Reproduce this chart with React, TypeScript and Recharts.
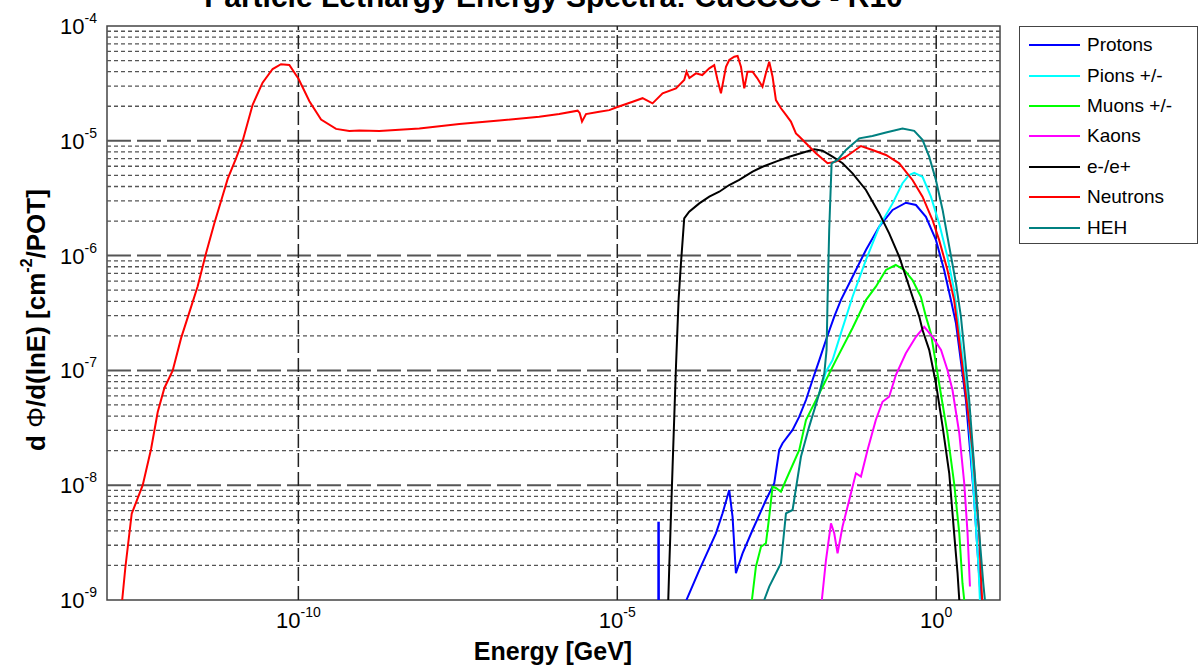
import React from 'react'
import {
  LineChart,
  Line,
  XAxis,
  YAxis,
  ReferenceLine,
  ReferenceArea,
  Legend
} from 'recharts'

// energy [GeV] and lethargy flux [cm^-2/POT] per particle type
const protonE = [4.38e-5, 4.40e-5, 4.48e-5, 4.52e-5, 1.12e-4, 1.93e-4, 3.52e-4, 4.47e-4, 5.69e-4, 6.41e-4, 7.24e-4, 9.2e-4, 1.32e-3, 2.14e-3, 2.89e-3, 3.46e-3, 3.9e-3, 5.6e-3, 7.13e-3, 9.08e-3, 1.15e-2, 1.47e-2, 1.87e-2, 2.52e-2, 3.2e-2, 4.88e-2, 7.91e-2, 0.128, 0.207, 0.335, 0.481, 0.69, 0.989, 1.33, 1.7, 2.04, 2.92, 3.94, 4.72, 5.02]
const protonFlux = [1e-11, 4.7e-9, 4.7e-9, 1e-11, 9e-10, 1.82e-9, 3.81e-9, 5.69e-9, 9.08e-9, 5.32e-9, 1.71e-9, 2.55e-9, 4.07e-9, 7.43e-9, 1.04e-8, 2.03e-8, 2.32e-8, 3.03e-8, 3.95e-8, 5.52e-8, 8.24e-8, 1.23e-7, 1.84e-7, 2.94e-7, 4.1e-7, 6.55e-7, 1.12e-6, 1.79e-6, 2.5e-6, 2.89e-6, 2.76e-6, 2.18e-6, 1.37e-6, 7.5e-7, 4.1e-7, 2.57e-7, 5.52e-8, 7.43e-9, 1.6e-9, 1e-9]

const pionE = [1.47e-2, 1.87e-2, 2.37e-2, 3.2e-2, 4.88e-2, 7.91e-2, 0.128, 0.207, 0.296, 0.377, 0.452, 0.61, 0.826, 1.11, 1.5, 1.91, 2.3, 3.1, 3.94, 4.6, 4.84]
const pionFlux = [6.31e-8, 9.75e-8, 1.23e-7, 2.1e-7, 4.38e-7, 9.16e-7, 1.79e-6, 2.85e-6, 4.27e-6, 5.04e-6, 5.27e-6, 4.86e-6, 3.26e-6, 1.91e-6, 9.78e-7, 5.01e-7, 2.25e-7, 5.52e-8, 7.43e-9, 1.95e-9, 1e-9]

const muonE = [1.29e-3, 1.49e-3, 1.79e-3, 2.14e-3, 2.41e-3, 2.72e-3, 3.07e-3, 3.68e-3, 4.41e-3, 7.13e-3, 9.08e-3, 1.47e-2, 2.68e-2, 4.88e-2, 7.91e-2, 0.113, 0.163, 0.232, 0.315, 0.425, 0.575, 0.69, 0.826, 1.11, 1.5, 1.91, 2.3, 2.58, 2.75]
const muonFlux = [1e-9, 1.95e-9, 2.91e-9, 3.12e-9, 5.32e-9, 9.7e-9, 9.46e-9, 8.77e-9, 1.11e-8, 2.03e-8, 3.7e-8, 6.31e-8, 1.23e-7, 2.34e-7, 4.1e-7, 5.36e-7, 7.5e-7, 8.28e-7, 7.5e-7, 6.12e-7, 4.38e-7, 2.94e-7, 2.1e-7, 7.73e-8, 2.83e-8, 1.04e-8, 3.81e-9, 1.4e-9, 1e-9]

const kaonE = [1.61e-2, 1.87e-2, 2.24e-2, 2.52e-2, 2.84e-2, 3.4e-2, 4.33e-2, 5.51e-2, 6.61e-2, 8.38e-2, 0.113, 0.144, 0.183, 0.233, 0.334, 0.481, 0.649, 0.875, 1.19, 1.5, 1.8, 2.3, 2.75, 3.1, 3.38]
const kaonFlux = [1e-9, 2.23e-9, 4.66e-9, 3.81e-9, 2.55e-9, 4.36e-9, 7.43e-9, 1.27e-8, 1.19e-8, 2.03e-8, 3.7e-8, 5.33e-8, 5.9e-8, 9.12e-8, 1.41e-7, 1.96e-7, 2.4e-7, 1.96e-7, 1.51e-7, 1.01e-7, 6.75e-8, 2.83e-8, 1.04e-8, 3.81e-9, 1.31e-9]

const electronE = [6.3e-5, 6.53e-5, 7.36e-5, 8.32e-5, 9.14e-5, 9.96e-5, 1.12e-4, 1.34e-4, 1.93e-4, 2.77e-4, 3.97e-4, 5.69e-4, 8.17e-4, 1.32e-3, 1.89e-3, 3.07e-3, 4.96e-3, 8.02e-3, 1.22e-2, 1.65e-2, 2.37e-2, 3.4e-2, 4.88e-2, 7.91e-2, 0.128, 0.183, 0.263, 0.335, 0.425, 0.542, 0.61, 0.776, 0.989, 1.26, 1.6, 1.91, 2.16, 2.3]
const electronFlux = [1e-9, 1.95e-9, 1.45e-8, 1.08e-7, 4.1e-7, 8.57e-7, 2.11e-6, 2.41e-6, 2.85e-6, 3.26e-6, 3.6e-6, 4.12e-6, 4.56e-6, 5.38e-6, 5.94e-6, 6.58e-6, 7.27e-6, 7.87e-6, 8.43e-6, 8.2e-6, 7.27e-6, 6.37e-6, 5.21e-6, 3.73e-6, 2.33e-6, 1.56e-6, 9.78e-7, 6.55e-7, 4.38e-7, 2.94e-7, 2.25e-7, 1.51e-7, 7.73e-8, 3.24e-8, 1.27e-8, 3.81e-9, 1.71e-9, 1e-9]

const neutronE = [1.73e-13, 1.94e-13, 2.44e-13, 3.63e-13, 4.91e-13, 6.24e-13, 7.94e-13, 1.07e-12, 1.45e-12, 1.96e-12, 2.64e-12, 3.57e-12, 4.82e-12, 6.14e-12, 7.8e-12, 1.05e-11, 1.34e-11, 1.92e-11, 2.75e-11, 3.95e-11, 5.34e-11, 7.22e-11, 1.01e-10, 1.49e-10, 2.27e-10, 3.9e-10, 6.3e-10, 9.04e-10, 1.86e-9, 7.89e-9, 3.34e-8, 1.41e-7, 5.98e-7, 1.23e-6, 2.39e-6, 2.57e-6, 2.8e-6, 3.23e-6, 5.22e-6, 7.5e-6, 9.55e-6, 1.74e-5, 2.49e-5, 3.57e-5, 5.13e-5, 8.32e-5, 1.12e-4, 1.22e-4, 1.35e-4, 1.71e-4, 2.15e-4, 2.77e-4, 3.31e-4, 3.73e-4, 4.22e-4, 5.06e-4, 5.69e-4, 6.82e-4, 7.69e-4, 8.69e-4, 9.79e-4, 1.1e-3, 1.32e-3, 1.56e-3, 1.89e-3, 2.14e-3, 2.41e-3, 2.72e-3, 3.07e-3, 3.68e-3, 4.41e-3, 5.27e-3, 6.32e-3, 7.13e-3, 9.08e-3, 1.3e-2, 1.98e-2, 2.68e-2, 3.85e-2, 6.61e-2, 0.1, 0.163, 0.263, 0.425, 0.61, 0.875, 1.11, 1.5, 1.91, 2.58, 3.71, 4.72, 5.02, 5.26]
const neutronFlux = [1e-9, 1.92e-9, 5.64e-9, 1e-8, 2.07e-8, 4.34e-8, 7.03e-8, 9.95e-8, 1.91e-7, 3.22e-7, 5.41e-7, 1.05e-6, 1.91e-6, 2.99e-6, 4.66e-6, 7e-6, 1e-5, 2.06e-5, 3.21e-5, 4.22e-5, 4.65e-5, 4.58e-5, 3.45e-5, 2.21e-5, 1.53e-5, 1.27e-5, 1.22e-5, 1.23e-5, 1.22e-5, 1.28e-5, 1.4e-5, 1.5e-5, 1.62e-5, 1.71e-5, 1.83e-5, 1.75e-5, 1.47e-5, 1.71e-5, 1.79e-5, 1.85e-5, 1.95e-5, 2.19e-5, 2.35e-5, 2.12e-5, 2.59e-5, 2.86e-5, 3.39e-5, 4e-5, 3.52e-5, 3.87e-5, 3.74e-5, 4.28e-5, 4.57e-5, 3.39e-5, 2.59e-5, 4.42e-5, 5.06e-5, 5.4e-5, 5.48e-5, 4.42e-5, 2.86e-5, 4e-5, 4e-5, 3.52e-5, 2.96e-5, 3.9e-5, 4.89e-5, 3.61e-5, 2.26e-5, 1.92e-5, 1.68e-5, 1.47e-5, 1.16e-5, 1.09e-5, 9.51e-6, 7.78e-6, 6.37e-6, 6.58e-6, 7.27e-6, 9.01e-6, 8.32e-6, 7.52e-6, 6.37e-6, 4.56e-6, 3.26e-6, 2.04e-6, 1.37e-6, 7.5e-7, 4.1e-7, 1.08e-7, 2.03e-8, 3.84e-9, 1.6e-9, 1e-9]

const hehE = [2.01e-3, 2.41e-3, 3.68e-3, 4.41e-3, 5.6e-3, 7.57e-3, 1.02e-2, 1.47e-2, 1.76e-2, 1.91e-2, 1.98e-2, 2.1e-2, 2.29e-2, 2.84e-2, 3.85e-2, 6.21e-2, 0.1, 0.163, 0.296, 0.452, 0.61, 0.776, 0.989, 1.26, 1.6, 2.04, 2.44, 3.29, 3.94, 4.72, 5.46, 5.8]
const hehFlux = [1e-9, 1.31e-9, 2.09e-9, 5.69e-9, 6.08e-9, 1.77e-8, 3.24e-8, 6.31e-8, 9.44e-8, 1.51e-7, 4.1e-7, 1.67e-6, 6.37e-6, 6.81e-6, 8.32e-6, 1.05e-5, 1.1e-5, 1.18e-5, 1.28e-5, 1.22e-5, 1.02e-5, 7.27e-6, 4.56e-6, 2.5e-6, 1.2e-6, 5.74e-7, 2.94e-7, 5.52e-8, 1.45e-8, 3.84e-9, 1.41e-9, 1e-9]

const xTicks = [1e-10, 1e-5, 1]
const yTicks = [1e-9, 1e-8, 1e-7, 1e-6, 1e-5, 1e-4]
const minorSteps = [2, 3, 4, 5, 6, 7, 8, 9]

const toPoints = (e: number[], flux: number[]) =>
  e.map((x, i) => ({ e: x, flux: flux[i] }))

const series = [
  { name: 'Protons', color: '#0000ff', data: toPoints(protonE, protonFlux) },
  { name: 'Pions +/-', color: '#00ffff', data: toPoints(pionE, pionFlux) },
  { name: 'Muons +/-', color: '#00ff00', data: toPoints(muonE, muonFlux) },
  { name: 'Kaons', color: '#ff00ff', data: toPoints(kaonE, kaonFlux) },
  { name: 'e-/e+', color: '#000000', data: toPoints(electronE, electronFlux) },
  { name: 'Neutrons', color: '#ff0000', data: toPoints(neutronE, neutronFlux) },
  { name: 'HEH', color: '#008080', data: toPoints(hehE, hehFlux) }
]

// 2..9 x 10^k between the labelled decades
const minorY = yTicks.slice(0, -1).flatMap(d => minorSteps.map(m => m * d))
const majorY = yTicks.slice(1, -1)

const FONT = "'Liberation Sans', Arial, sans-serif"

const XTick = (props: any) => {
  const { x, y, payload } = props
  const p = Math.round(Math.log10(payload.value))
  return (
    <text x={x} y={y + 20} textAnchor="middle" fontFamily={FONT} fontSize={22} fill="#000">
      10<tspan dy={-11} fontSize={14}>{p}</tspan>
    </text>
  )
}

const YTick = (props: any) => {
  const { x, y, payload } = props
  const p = Math.round(Math.log10(payload.value))
  return (
    <text x={x - 2} y={y + 8} textAnchor="end" fontFamily={FONT} fontSize={22} fill="#000">
      10<tspan dy={-11} fontSize={14}>{p}</tspan>
    </text>
  )
}

const XTitle = () => (
  <text x={553} y={660} textAnchor="middle" fontFamily={FONT} fontSize={25} fontWeight="bold" fill="#000">
    Energy [GeV]
  </text>
)

const YTitle = () => (
  <text
    x={36}
    y={320}
    transform="rotate(-90 36 320)"
    textAnchor="middle"
    dominantBaseline="central"
    fontFamily={FONT}
    fontSize={26}
    fontWeight="bold"
    fill="#000"
  >
    d <tspan fontWeight="normal">Φ</tspan>/d(lnE) [cm<tspan dy={-10} fontSize={16}>-2</tspan><tspan dy={10}>/POT]</tspan>
  </text>
)

const LegendBox = () => (
  <div
    style={{
      width: 179,
      height: 218,
      boxSizing: 'border-box',
      border: '1px solid #444',
      background: '#fff',
      paddingTop: 3,
      paddingLeft: 9,
      fontFamily: FONT
    }}
  >
    {series.map(s => (
      <div key={s.name} style={{ display: 'flex', alignItems: 'center', height: 30.4 }}>
        <svg width={51} height={4} style={{ display: 'block' }}>
          <line x1={0} y1={2} x2={51} y2={2} stroke={s.color} strokeWidth={2} />
        </svg>
        <span style={{ marginLeft: 7, fontSize: 19, color: '#000' }}>{s.name}</span>
      </div>
    ))}
  </div>
)

const App = () => {
  return (
    <div style={{ position: 'absolute', left: 0, top: 0, width: 1203, height: 669, background: '#fff', overflow: 'hidden' }}>
      <div
        style={{
          position: 'absolute',
          left: 107,
          width: 893,
          top: -18,
          textAlign: 'center',
          fontFamily: FONT,
          fontWeight: 'bold',
          fontSize: 30,
          lineHeight: '30px',
          whiteSpace: 'nowrap'
        }}
      >
        Particle Lethargy Energy Spectra: CuCCCC - R10
      </div>
      <LineChart width={1203} height={669} margin={{ top: 26, right: 203, bottom: 0, left: 0 }}>
        <XAxis
          type="number"
          dataKey="e"
          scale="log"
          domain={[1e-13, 10]}
          ticks={xTicks}
          allowDataOverflow
          height={69}
          tick={<XTick />}
          tickLine={false}
          axisLine={false}
          label={<XTitle />}
        />
        <YAxis
          type="number"
          scale="log"
          domain={[1e-9, 1e-4]}
          ticks={yTicks}
          allowDataOverflow
          width={107}
          tick={<YTick />}
          tickLine={false}
          axisLine={false}
          label={<YTitle />}
        />
        {minorY.map(v => (
          <ReferenceLine key={`m${v}`} y={v} stroke="#555" strokeWidth={1.3} strokeDasharray="4 3" />
        ))}
        {majorY.map(v => (
          <ReferenceLine key={`M${v}`} y={v} stroke="#555" strokeWidth={2} strokeDasharray="24 6" />
        ))}
        {xTicks.map(v => (
          <ReferenceLine key={`x${v}`} x={v} stroke="#222" strokeWidth={1.5} strokeDasharray="14 5" />
        ))}
        {series.map(s => (
          <Line
            key={s.name}
            name={s.name}
            data={s.data}
            dataKey="flux"
            type="linear"
            stroke={s.color}
            strokeWidth={2}
            dot={false}
            activeDot={false}
            isAnimationActive={false}
          />
        ))}
        <ReferenceArea
          x1={1e-13}
          x2={10}
          y1={1e-9}
          y2={1e-4}
          fill="none"
          stroke="#444"
          strokeWidth={1.5}
          ifOverflow="visible"
        />
        <Legend
          layout="vertical"
          align="center"
          verticalAlign="middle"
          content={<LegendBox />}
          wrapperStyle={{ left: 1019, top: 26, width: 179 }}
        />
      </LineChart>
    </div>
  )
}

export default App
